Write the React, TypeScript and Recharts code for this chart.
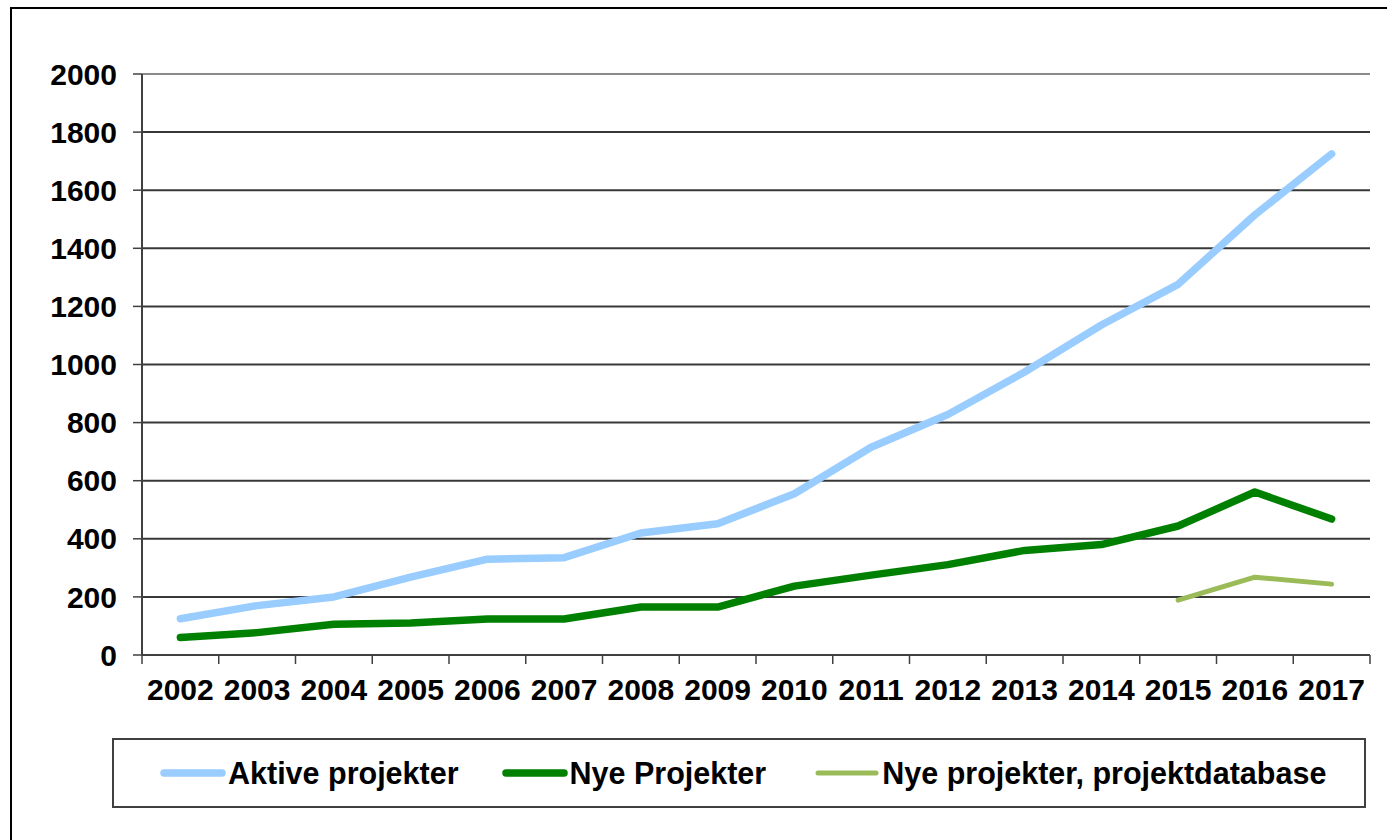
import React from "react";
import {
    LineChart,
    Line,
    XAxis,
    YAxis,
    CartesianGrid,
    ReferenceLine
} from "recharts";

const years = [
    "2002", "2003", "2004", "2005", "2006", "2007", "2008", "2009",
    "2010", "2011", "2012", "2013", "2014", "2015", "2016", "2017"
];

const aktiveProjekter = [125, 170, 200, 268, 330, 335, 420, 452, 555, 715, 828, 974, 1136, 1276, 1515, 1725];

const nyeProjekter = [60, 77, 106, 110, 124, 124, 165, 165, 237, 275, 311, 360, 380, 444, 561, 468];

const nyeProjektdatabase: (number | null)[] = [
    null, null, null, null, null, null, null, null,
    null, null, null, null, null, 189, 268, 244
];

const yTicks = [0, 200, 400, 600, 800, 1000, 1200, 1400, 1600, 1800, 2000];

const series = [
    { key: "aktive", name: "Aktive projekter", color: "#99CCFF", width: 7.5 },
    { key: "nye", name: "Nye Projekter", color: "#008000", width: 7.5 },
    { key: "database", name: "Nye projekter, projektdatabase", color: "#9BBB59", width: 5 }
];

const data = years.map((year, i) => ({
    year,
    aktive: aktiveProjekter[i],
    nye: nyeProjekter[i],
    database: nyeProjektdatabase[i]
}));

const FONT = "'Liberation Sans', Arial, sans-serif";
const PLOT_LEFT = 142;
const PLOT_RIGHT = 1370;
const PLOT_BOTTOM = 655;
const BAND = (PLOT_RIGHT - PLOT_LEFT) / years.length;

function YearTick(props: any) {
    const { x, payload, index } = props;
    const last = index === years.length - 1;
    return (
        <g>
            <line x1={x - BAND / 2} x2={x - BAND / 2} y1={PLOT_BOTTOM} y2={PLOT_BOTTOM + 9}
                  stroke="#404040" strokeWidth={1.5} />
            {last && (
                <line x1={x + BAND / 2} x2={x + BAND / 2} y1={PLOT_BOTTOM} y2={PLOT_BOTTOM + 9}
                      stroke="#404040" strokeWidth={1.5} />
            )}
            <text x={x} y={700} textAnchor="middle" fontFamily={FONT}
                  fontWeight="bold" fontSize={30} fill="#000">
                {payload.value}
            </text>
        </g>
    );
}

function LegendBox() {
    return (
        <div style={{
            position: "absolute",
            left: 112,
            top: 738,
            width: 1254,
            height: 70,
            boxSizing: "border-box",
            border: "2px solid #404040",
            display: "flex",
            alignItems: "center",
            paddingLeft: 46,
            fontFamily: FONT,
            fontWeight: "bold",
            fontSize: 30.5,
            color: "#000"
        }}>
            {series.map((s, i) => (
                <div key={s.key} style={{
                    display: "flex",
                    alignItems: "center",
                    marginLeft: i === 0 ? 0 : (i === 1 ? 43 : 48)
                }}>
                    <svg width={66} height={12}>
                        <line x1={4} x2={62} y1={6} y2={6} stroke={s.color}
                              strokeWidth={s.width} strokeLinecap="round" />
                    </svg>
                    <span style={{ marginLeft: 2 }}>{s.name}</span>
                </div>
            ))}
        </div>
    );
}

export default function App() {
    return (
        <div style={{
            position: "absolute",
            left: 0,
            top: 0,
            width: 1387,
            height: 840,
            overflow: "hidden",
            background: "#fff"
        }}>

            <div style={{
                position: "absolute",
                left: 10,
                top: 7,
                width: 1500,
                height: 1000,
                border: "2px solid #000"
            }} />

            <div style={{ position: "absolute", left: 0, top: 0 }}>
                <LineChart
                    width={1387}
                    height={840}
                    data={data}
                    margin={{ top: 74, right: 1387 - PLOT_RIGHT, bottom: 125, left: 0 }}
                >

                    <CartesianGrid vertical={false} stroke="#383838" strokeWidth={2} />

                    <ReferenceLine y={2000} stroke="#8a8a8a" strokeWidth={2} />

                    <XAxis
                        dataKey="year"
                        height={60}
                        padding={{ left: BAND / 2, right: BAND / 2 }}
                        axisLine={{ stroke: "#404040", strokeWidth: 2 }}
                        tickLine={false}
                        tick={<YearTick />}
                        interval={0}
                    />

                    <YAxis
                        width={PLOT_LEFT}
                        domain={[0, 2000]}
                        ticks={yTicks}
                        interval={0}
                        axisLine={{ stroke: "#404040", strokeWidth: 2 }}
                        tickLine={{ stroke: "#404040", strokeWidth: 1.5 }}
                        tickSize={9}
                        tickMargin={16}
                        tick={{ fontFamily: FONT, fontWeight: "bold", fontSize: 30, fill: "#000" }}
                    />

                    <YAxis
                        yAxisId="border"
                        orientation="right"
                        width={0}
                        domain={[0, 2000]}
                        tick={false}
                        tickLine={false}
                        axisLine={{ stroke: "#8a8a8a", strokeWidth: 2 }}
                    />

                    {series.map((s) => (
                        <Line
                            key={s.key}
                            type="linear"
                            dataKey={s.key}
                            name={s.name}
                            stroke={s.color}
                            strokeWidth={s.width}
                            strokeLinecap="round"
                            strokeLinejoin="round"
                            dot={false}
                            activeDot={false}
                            isAnimationActive={false}
                        />
                    ))}

                </LineChart>
            </div>

            <LegendBox />

        </div>
    );
}
